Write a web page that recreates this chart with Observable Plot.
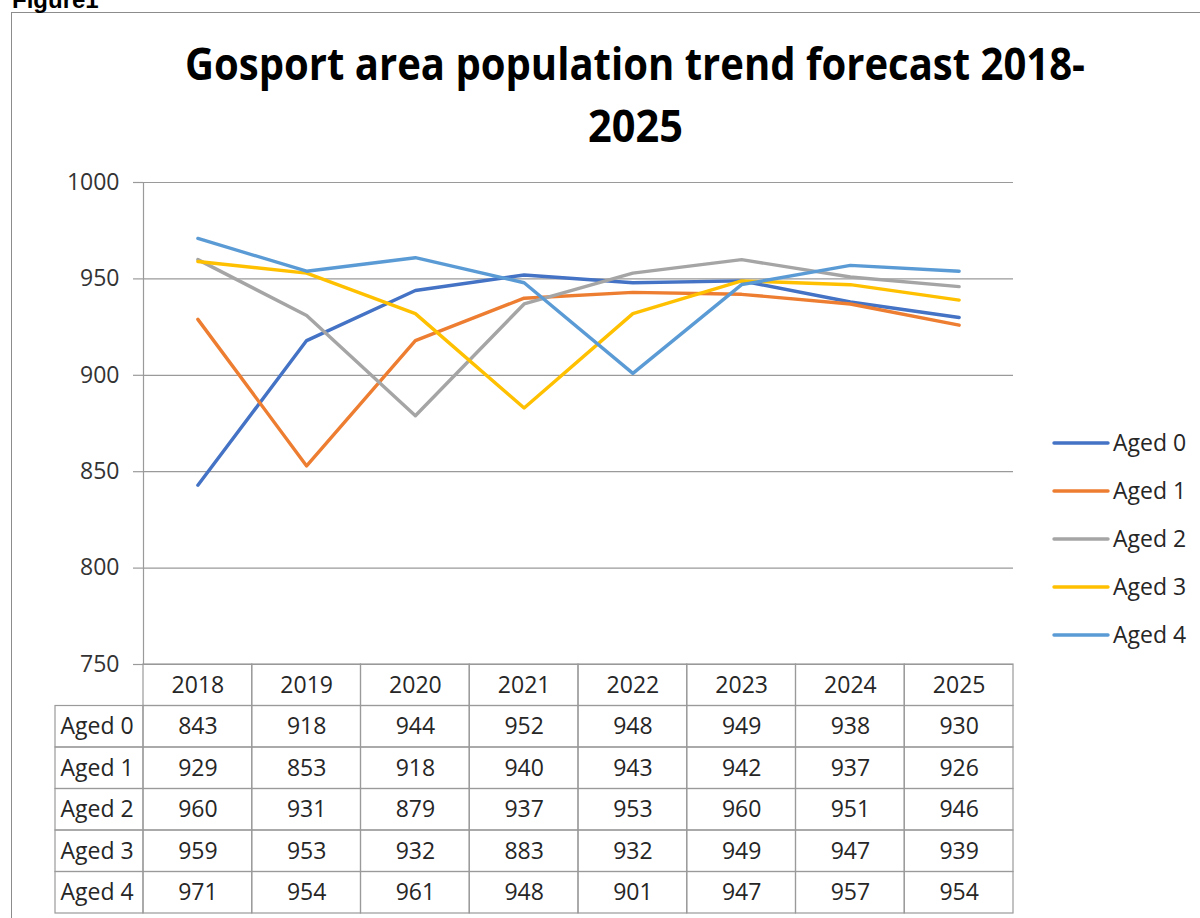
<!DOCTYPE html>
<html><head><meta charset="utf-8">
<script src="https://cdn.jsdelivr.net/npm/d3@7"></script>
<script src="https://cdn.jsdelivr.net/npm/@observablehq/plot@0.6"></script>
<style>
html,body{margin:0;padding:0;background:#fff;overflow:hidden;}
#wrap{position:relative;width:1200px;height:918px;overflow:hidden;font-family:"Open Sans",sans-serif;}
#wrap > *{position:absolute;}
#border{left:11px;top:12px;width:1400px;height:1100px;border:1px solid #8c8c8c;box-sizing:border-box;}
</style></head><body>
<div id="wrap"><div id="border"></div></div>
<script>
// ---- data ----
const figureLabel = "Figure1";
const titleLines = ["Gosport area population trend forecast 2018-", "2025"];
const years = [2018, 2019, 2020, 2021, 2022, 2023, 2024, 2025];
const series = ["Aged 0", "Aged 1", "Aged 2", "Aged 3", "Aged 4"];
const aged0 = [843, 918, 944, 952, 948, 949, 938, 930];
const aged1 = [929, 853, 918, 940, 943, 942, 937, 926];
const aged2 = [960, 931, 879, 937, 953, 960, 951, 946];
const aged3 = [959, 953, 932, 883, 932, 949, 947, 939];
const aged4 = [971, 954, 961, 948, 901, 947, 957, 954];
const yTicks = [750, 800, 850, 900, 950, 1000];
const colors = ["#4472C4", "#ED7D31", "#A5A5A5", "#FFC000", "#5B9BD5"];

const values = [aged0, aged1, aged2, aged3, aged4];
const rows = series.flatMap((s, i) => years.map((yr, j) => ({series: s, year: yr, value: values[i][j]})));

const wrap = document.getElementById("wrap");
const grid = "#9a9a9a";
const font = '"Open Sans", sans-serif';
const xDomain = [years[0] - 0.5, years[years.length - 1] + 0.5];

// ---- chart ----
const chart = Plot.plot({
  width: 1200, height: 666,
  marginTop: 182, marginBottom: 2, marginLeft: 143, marginRight: 187,
  style: {fontFamily: font, background: "transparent", overflow: "visible"},
  x: {type: "linear", domain: xDomain, axis: null},
  y: {domain: [750, 1000]},
  color: {domain: series, range: colors},
  marks: [
    Plot.ruleY(yTicks, {stroke: grid, strokeWidth: 1.2}),
    Plot.axisY({ticks: yTicks, tickSize: 10, tickPadding: 14, stroke: grid, strokeOpacity: 1, strokeWidth: 1.2, fill: "#333333", fontSize: 23, tickFormat: d => String(d), label: null}),
    Plot.ruleX([xDomain[0]], {stroke: grid, strokeWidth: 1.2}),
    Plot.line(rows, {x: "year", y: "value", z: "series", stroke: "series", strokeWidth: 3.4, strokeLinejoin: "round", strokeLinecap: "round"})
  ]
});
chart.style.left = "0px"; chart.style.top = "0px";
wrap.appendChild(chart);

// ---- data table ----
const labelW = 88 / 108.75; // label column width, in year units
const cells = [];
years.forEach((yr, j) => {
  cells.push({x: yr, r: 0, text: String(yr)});
  series.forEach((s, i) => cells.push({x: yr, r: i + 1, text: String(values[i][j])}));
});
const labelCells = series.map((s, i) => ({r: i + 1, text: s}));

const table = Plot.plot({
  width: 1200, height: 253,
  marginTop: 1, marginBottom: 3, marginLeft: 143, marginRight: 187,
  style: {fontFamily: font, background: "transparent", overflow: "visible"},
  x: {type: "linear", domain: xDomain, axis: null},
  y: {domain: [series.length + 1, 0], axis: null},
  marks: [
    Plot.rect(cells, {x1: d => d.x - 0.5, x2: d => d.x + 0.5, y1: "r", y2: d => d.r + 1, fill: "none", stroke: grid, strokeWidth: 1.2}),
    Plot.rect(labelCells, {x1: () => xDomain[0] - labelW, x2: () => xDomain[0], y1: "r", y2: d => d.r + 1, fill: "none", stroke: grid, strokeWidth: 1.2}),
    Plot.text(cells, {x: "x", y: d => d.r + 0.5, text: "text", fontSize: 23, fill: "#262626"}),
    Plot.text(labelCells, {x: () => xDomain[0] - labelW, y: d => d.r + 0.5, text: "text", textAnchor: "start", dx: 5, fontSize: 23, fill: "#262626"})
  ]
});
table.style.left = "0px"; table.style.top = "663px";
wrap.appendChild(table);

// ---- title, figure label, legend ----
const ov = d3.create("svg").attr("width", 1200).attr("height", 918)
  .style("left", "0px").style("top", "0px").style("pointer-events", "none");
ov.append("text").attr("x", 12).attr("y", 8).attr("font-family", '"Liberation Sans", Arial, sans-serif')
  .attr("font-weight", "bold").attr("font-size", 24).attr("fill", "#000").text(figureLabel);
const tpos = [{x: 185, y: 80, len: 900}, {x: 588, y: 142, len: 95}];
titleLines.forEach((t, i) => {
  ov.append("text").attr("x", tpos[i].x).attr("y", tpos[i].y)
    .attr("textLength", tpos[i].len).attr("lengthAdjust", "spacingAndGlyphs")
    .attr("font-family", font).attr("font-weight", "bold").attr("font-size", 45).attr("fill", "#000").text(t);
});
const lg = ov.append("g");
series.forEach((s, i) => {
  const y = 443 + i * 48;
  lg.append("line").attr("x1", 1054).attr("x2", 1108).attr("y1", y).attr("y2", y)
    .attr("stroke", colors[i]).attr("stroke-width", 3.4).attr("stroke-linecap", "round");
  lg.append("text").attr("x", 1113).attr("y", y).attr("dy", "0.35em").attr("font-family", font)
    .attr("font-size", 23).attr("fill", "#262626").text(s);
});
wrap.appendChild(ov.node());
</script>
</body></html>
